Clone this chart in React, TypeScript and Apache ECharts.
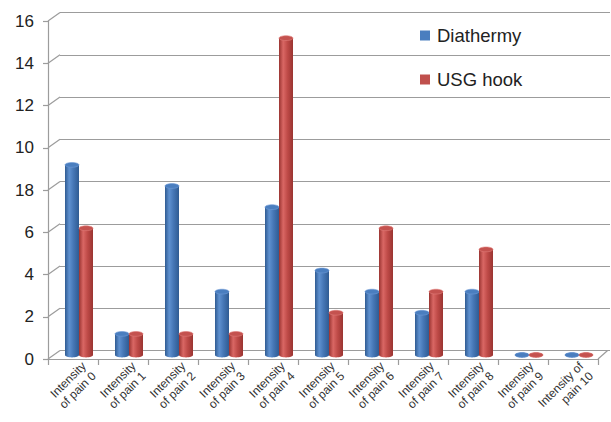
import React, { useEffect, useRef } from "react";
import * as echarts from "echarts";

const categories = [
  "Intensity\nof pain 0",
  "Intensity\nof pain 1",
  "Intensity\nof pain 2",
  "Intensity\nof pain 3",
  "Intensity\nof pain 4",
  "Intensity\nof pain 5",
  "Intensity\nof pain 6",
  "Intensity\nof pain 7",
  "Intensity\nof pain 8",
  "Intensity\nof pain 9",
  "Intensity of\npain 10",
];
const diathermy = [9, 1, 8, 3, 7, 4, 3, 2, 3, 0, 0];
const usgHook = [6, 1, 1, 1, 15, 2, 6, 3, 5, 0, 0];
const yTicks = [0, 2, 4, 6, 8, 10, 12, 14, 16];
const yTickLabels = ["0", "2", "4", "6", "18", "10", "12", "14", "16"];

const FONT = "'Liberation Sans', Arial, Helvetica, sans-serif";
const GRID_COLOR = "#9c9c9c";

function cylinder(side: number, c: { dark: string; mid: string; light: string; top: string; rim: string }) {
  return (params: any, api: any) => {
    const cat = api.value(0);
    const v = api.value(1);
    const base = api.coord([cat, 0]);
    const top = api.coord([cat, v]);
    const cw = api.size([1, 0])[0];
    const bw = cw * 0.28;
    const dx = cw * 0.12;
    const dy = -4;
    const cx = base[0] + dx + (side * bw) / 2;
    const x0 = cx - bw / 2;
    const yTop = top[1] + dy;
    const yBot = base[1] + dy;
    const ry = 2.4;
    const grad = new echarts.graphic.LinearGradient(0, 0, 1, 0, [
      { offset: 0, color: c.dark },
      { offset: 0.3, color: c.light },
      { offset: 0.6, color: c.mid },
      { offset: 1, color: c.dark },
    ]);
    return {
      type: "group",
      children: [
        { type: "rect", shape: { x: x0, y: yTop, width: bw, height: Math.max(0, yBot - yTop) }, style: { fill: grad } },
        { type: "ellipse", shape: { cx, cy: yBot, rx: bw / 2, ry }, style: { fill: grad } },
        { type: "ellipse", shape: { cx, cy: yTop, rx: bw / 2, ry }, style: { fill: c.top, stroke: c.rim, lineWidth: 0.6 } },
      ],
    };
  };
}

export default function App() {
  const ref = useRef<HTMLDivElement>(null);
  useEffect(() => {
    if (!ref.current) return;
    const chart = echarts.init(ref.current, undefined, { renderer: "svg" });
    const depthX = 12;
    const depthY = -8.5;
    chart.setOption({
      animation: false,
      backgroundColor: "#ffffff",
      textStyle: { fontFamily: FONT },
      grid: [
        { left: 48, right: 13, top: 21, bottom: 63 },
        { left: 60, right: 1, top: 12.5, bottom: 71.5 },
        { left: 64, right: -3, top: 21, bottom: 63 },
      ],
      legend: {
        orient: "vertical",
        left: 420,
        top: 26,
        padding: 0,
        itemWidth: 10,
        itemHeight: 10,
        itemGap: 25,
        textStyle: { fontSize: 18.5, color: "#222", fontFamily: FONT, padding: [0, 0, 0, 2] },
        data: [
          { name: "Diathermy", icon: "rect", itemStyle: { color: "#4a7ebf" } },
          { name: "USG hook", icon: "rect", itemStyle: { color: "#c0504d" } },
        ],
      },
      xAxis: [
        {
          type: "category",
          gridIndex: 0,
          data: categories,
          boundaryGap: true,
          axisLine: { show: true, lineStyle: { color: GRID_COLOR, width: 1.2 } },
          axisTick: { show: true, interval: 0, length: 6, lineStyle: { color: GRID_COLOR, width: 1.2 } },
          axisLabel: { show: false },
          splitLine: { show: false },
        },
        {
          type: "category",
          gridIndex: 1,
          data: categories,
          show: false,
        },
        {
          type: "category",
          gridIndex: 2,
          data: categories,
          boundaryGap: true,
          axisLine: { show: false },
          axisTick: { show: false },
          axisLabel: {
            show: true,
            interval: 0,
            rotate: 45,
            margin: 19,
            fontSize: 12,
            lineHeight: 14,
            color: "#333",
            fontFamily: FONT,
          },
        },
      ],
      yAxis: [
        {
          type: "value",
          gridIndex: 0,
          min: 0,
          max: 16,
          interval: 2,
          axisLine: { show: true, lineStyle: { color: GRID_COLOR, width: 1.2 } },
          axisTick: { show: true, length: 5, lineStyle: { color: GRID_COLOR, width: 1.2 } },
          axisLabel: {
            margin: 14,
            fontSize: 17,
            color: "#222",
            fontFamily: FONT,
            formatter: (val: number) => {
              const i = yTicks.indexOf(val);
              return i >= 0 ? yTickLabels[i] : "";
            },
          },
          splitLine: { show: false },
        },
        {
          type: "value",
          gridIndex: 1,
          min: 0,
          max: 16,
          interval: 2,
          axisLine: { show: false },
          axisTick: { show: false },
          axisLabel: { show: false },
          splitLine: { show: true, lineStyle: { color: GRID_COLOR, width: 1.2 } },
        },
        {
          type: "value",
          gridIndex: 2,
          min: 0,
          max: 16,
          interval: 2,
          show: false,
        },
      ],
      series: [
        {
          type: "custom",
          name: "connectors",
          xAxisIndex: 0,
          yAxisIndex: 0,
          silent: true,
          clip: false,
          z: 1,
          data: yTicks.map((v) => [0, v]),
          renderItem: (params: any, api: any) => {
            const v = api.value(1);
            const p = api.coord([0, v]);
            const cw = api.size([1, 0])[0];
            const x = p[0] - cw / 2;
            const children: any[] = [
              {
                type: "line",
                shape: { x1: x, y1: p[1], x2: x + depthX, y2: p[1] + depthY },
                style: { stroke: GRID_COLOR, lineWidth: 1.2 },
              },
            ];
            if (v === 0) {
              const r = api.coord([categories.length - 1, 0]);
              const xr = r[0] + cw / 2;
              children.push({
                type: "line",
                shape: { x1: xr, y1: r[1], x2: xr + depthX * 0.8, y2: r[1] + depthY },
                style: { stroke: GRID_COLOR, lineWidth: 1.2 },
              });
            }
            return { type: "group", children };
          },
        },
        {
          type: "custom",
          name: "Diathermy",
          xAxisIndex: 0,
          yAxisIndex: 0,
          clip: false,
          z: 3,
          itemStyle: { color: "#4a7ebf" },
          data: diathermy.map((v, i) => [i, v]),
          renderItem: cylinder(-1, { dark: "#2f5b92", mid: "#4677b6", light: "#5f91d0", top: "#4a7ebf", rim: "#6e9bd6" }),
        },
        {
          type: "custom",
          name: "USG hook",
          xAxisIndex: 0,
          yAxisIndex: 0,
          clip: false,
          z: 3,
          itemStyle: { color: "#c0504d" },
          data: usgHook.map((v, i) => [i, v]),
          renderItem: cylinder(1, { dark: "#9a3431", mid: "#bf4b48", light: "#d96764", top: "#c4524f", rim: "#e07d7a" }),
        },
      ],
    });
    return () => chart.dispose();
  }, []);
  return <div ref={ref} style={{ position: "fixed", left: 0, top: 0, width: 611, height: 422 }} />;
}
